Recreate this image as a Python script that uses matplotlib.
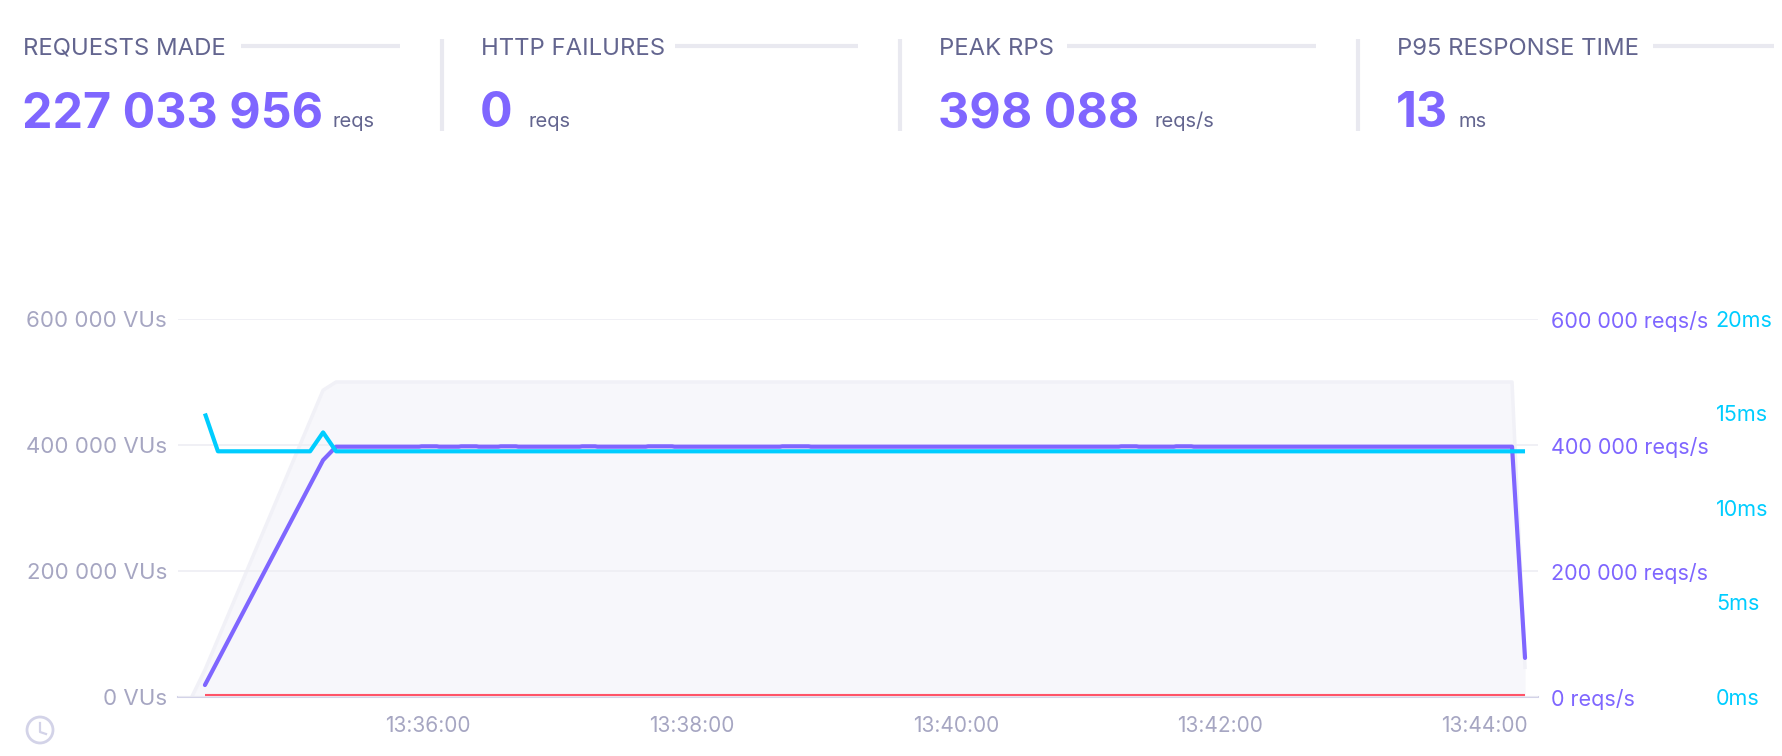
import matplotlib
matplotlib.use('Agg')
import matplotlib.pyplot as plt
from matplotlib.patches import Circle
from matplotlib.ticker import FuncFormatter

W, H = 1782, 756

# header stats
stat_titles = ['REQUESTS MADE', 'HTTP FAILURES', 'PEAK RPS', 'P95 RESPONSE TIME']
stat_values = ['227 033 956', '0', '398 088', '13']
stat_units = ['reqs', 'reqs', 'reqs/s', 'ms']

# seconds after 13:34:00
vus_t = [12.6, 18.6, 72.3, 78.2, 612.7, 618.6]
vus = [0, 43000, 487000, 500000, 500000, 47000]

rps_t = [18.6, 72.3, 78.2, 116, 117, 124, 125, 134, 135, 142, 143, 152, 153, 160, 161,
         189, 190, 196, 197, 219, 220, 231, 232, 280, 281, 293, 294, 434, 435, 442, 443,
         459, 460, 467, 468, 612.7, 618.6]
rps = [19000, 376000, 397300, 397300, 397900, 397900, 397300, 397300, 397900, 397900, 397300,
       397300, 397900, 397900, 397300, 397300, 397900, 397900, 397300, 397300, 397900, 397900,
       397300, 397300, 397900, 397900, 397300, 397300, 397900, 397900, 397300, 397300, 397900,
       397900, 397300, 397300, 62000]

p95_t = [18.6, 24.5, 66.4, 72.3, 78.2, 618.6]
p95 = [15, 13, 13, 14, 13, 13]

fail_t = [18.6, 618.6]
fail = [3000, 3000]

time_ticks = [120, 240, 360, 480, 600]
time_labels = ['13:36:00', '13:38:00', '13:40:00', '13:42:00', '13:44:00']
vu_ticks = [0, 200000, 400000, 600000]
ms_ticks = [0, 5, 10, 15, 20]

PURPLE = '#7f66ff'
CYAN = '#00cdff'
RED = '#ff5468'
SLATE = '#63658f'
GREY = '#a6a6c2'
PALE = '#e9e9f0'

plt.rcParams['font.family'] = ['Inter', 'DejaVu Sans']


def space_fmt(unit):
    return FuncFormatter(lambda v, p: f'{int(v):,}'.replace(',', ' ') + ' ' + unit)


fig = plt.figure(figsize=(W / 100, H / 100), dpi=100)

# pixel coordinate layer for header and clock icon
bg = fig.add_axes([0, 0, 1, 1])
bg.set_xlim(0, W)
bg.set_ylim(H, 0)
bg.axis('off')

for i in range(4):
    x0 = 23 + 458 * i
    bg.text(x0, 55, stat_titles[i], fontsize=17.2, color=SLATE, va='baseline')
    bg.text(x0 - 1, 127, stat_values[i], fontsize=34.8, color=PURPLE, weight='bold', va='baseline')

unit_x = [333, 529, 1155, 1459]
rule_x = [241, 675, 1067, 1653]
for i in range(4):
    bg.text(unit_x[i], 127, stat_units[i], fontsize=14.5, color=SLATE, va='baseline')
    bg.plot([rule_x[i], 400 + 458 * i], [46, 46], color=PALE, lw=3, solid_capstyle='butt')
for x in [442, 900, 1358]:
    bg.plot([x, x], [39, 131], color=PALE, lw=3, solid_capstyle='butt')

bg.add_patch(Circle((40, 730), 13, fill=False, ec='#d3d3e8', lw=2))
bg.plot([40, 40, 46], [723, 732, 734], color='#d3d3e8', lw=1.6)

# chart
left, right, top, bottom = 178, 1538, 319, 697
ax = fig.add_axes([left / W, 1 - bottom / H, (right - left) / W, (bottom - top) / H])
ax.patch.set_alpha(0)
xlim = (6.36, 624.5)
ax.fill_between(vus_t, vus, color='#f7f7fb', lw=0, zorder=1)
ax.plot(vus_t, vus, color='#f1f1f7', lw=2.5, zorder=1.5)
ax.set_xlim(*xlim)
ax.set_ylim(0, 600000)
ax.set_yticks(vu_ticks)
ax.yaxis.set_major_formatter(space_fmt('VUs'))
ax.set_xticks(time_ticks)
ax.set_xticklabels(time_labels)
ax.tick_params(axis='x', length=0, pad=14, labelsize=15, labelcolor=GREY)
ax.tick_params(axis='y', length=0, pad=8, labelsize=16, labelcolor=GREY)
ax.grid(axis='y', color='#eeeef3', lw=1.2, zorder=2)
ax.set_axisbelow(False)
for s in ['top', 'left', 'right']:
    ax.spines[s].set_visible(False)
ax.spines['bottom'].set_color('#d3d3e8')
ax.spines['bottom'].set_linewidth(1.5)

ax2 = ax.twinx()
ax2.set_ylim(0, 600000)
ax2.set_yticks(vu_ticks)
ax2.yaxis.set_major_formatter(space_fmt('reqs/s'))
ax2.tick_params(axis='y', length=0, pad=9, labelsize=15.5, labelcolor=PURPLE)
ax2.plot(fail_t, fail, color=RED, lw=1.5, solid_capstyle='butt')
ax2.plot(rps_t, rps, color=PURPLE, lw=3, solid_capstyle='round', solid_joinstyle='round')

ax3 = ax.twinx()
ax3.set_ylim(0, 20)
ax3.set_yticks(ms_ticks)
ax3.yaxis.set_major_formatter(FuncFormatter(lambda v, p: f'{int(v)}ms'))
ax3.tick_params(axis='y', length=0, pad=128, labelsize=15.5, labelcolor=CYAN)
ax3.plot(p95_t, p95, color=CYAN, lw=3, solid_capstyle='butt', solid_joinstyle='round')

for a in [ax2, ax3]:
    for s in a.spines.values():
        s.set_visible(False)

fig.savefig('out.png', dpi=100)
